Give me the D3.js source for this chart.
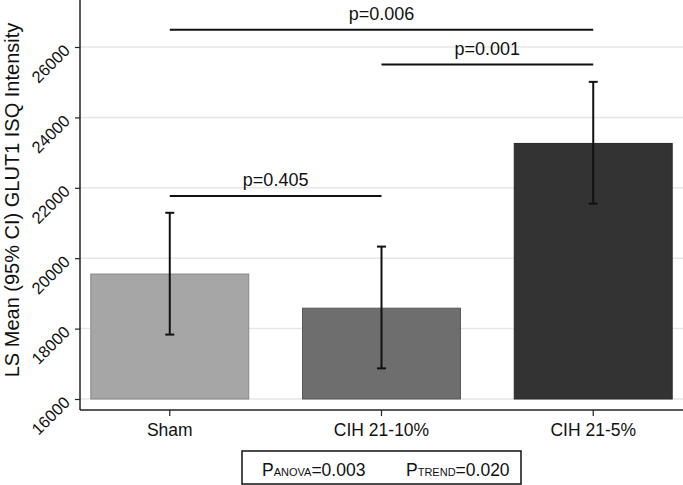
<!DOCTYPE html>
<html>
<head>
<meta charset="utf-8">
<script src="https://cdn.jsdelivr.net/npm/d3@7"></script>
<style>
  body { margin: 0; background: #fff; }
  svg { display: block; font-family: "Liberation Sans", Arial, sans-serif; }
</style>
</head>
<body>
<svg id="chart" width="683" height="485"></svg>
<script>
const categories = ["Sham", "CIH 21-10%", "CIH 21-5%"];
const means = [19550, 18580, 23260];
const ciLower = [17830, 16870, 21550];
const ciUpper = [21290, 20330, 25010];
const barColors = ["#a6a6a6", "#6e6e6e", "#333333"];
const yTicks = [16000, 18000, 20000, 22000, 24000, 26000];
const comparisons = [
  { from: 0, to: 2, y: 26490, label: "p=0.006" },
  { from: 1, to: 2, y: 25500, label: "p=0.001" },
  { from: 0, to: 1, y: 21770, label: "p=0.405" }
];
const yTitle = "LS Mean (95% CI) GLUT1 ISQ Intensity";
const legendItems = [
  { main: "P", sub: "ANOVA", value: "=0.003" },
  { main: "P", sub: "TREND", value: "=0.020" }
];

const svg = d3.select("#chart");
const plotLeft = 80, plotRight = 683, plotTop = 0, axisY = 410;

const x = d3.scaleBand().domain(categories).range([plotLeft, plotRight])
  .paddingInner(0.254).paddingOuter(0.051);
const y = d3.scaleLinear().domain([16000, 26000]).range([399, 47]);

// gridlines
svg.append("g").selectAll("line").data(yTicks).join("line")
  .attr("x1", plotLeft).attr("x2", plotRight)
  .attr("y1", d => y(d)).attr("y2", d => y(d))
  .attr("stroke", "#e6e6e6").attr("stroke-width", 1.5);

// bars
svg.append("g").selectAll("rect").data(categories).join("rect")
  .attr("x", d => x(d)).attr("width", x.bandwidth())
  .attr("y", (d, i) => y(means[i]))
  .attr("height", (d, i) => y(16000) - y(means[i]))
  .attr("fill", (d, i) => barColors[i])
  .attr("stroke", (d, i) => d3.color(barColors[i]).darker(0.6))
  .attr("stroke-width", 1);

// error bars
const eb = svg.append("g").attr("stroke", "#111").attr("stroke-width", 2);
categories.forEach((c, i) => {
  const cx = x(c) + x.bandwidth() / 2;
  eb.append("line").attr("x1", cx).attr("x2", cx).attr("y1", y(ciLower[i])).attr("y2", y(ciUpper[i]));
  eb.append("line").attr("x1", cx - 4.5).attr("x2", cx + 4.5).attr("y1", y(ciLower[i])).attr("y2", y(ciLower[i]));
  eb.append("line").attr("x1", cx - 4.5).attr("x2", cx + 4.5).attr("y1", y(ciUpper[i])).attr("y2", y(ciUpper[i]));
});

// y axis
const yAxis = d3.axisLeft(y).tickValues(yTicks).tickSize(5).tickSizeOuter(0).tickFormat(d3.format("d"));
const gy = svg.append("g").attr("transform", `translate(${plotLeft},0)`).call(yAxis);
gy.select(".domain").remove();
gy.selectAll(".tick line").attr("stroke", "#222").attr("stroke-width", 1.2);
gy.selectAll(".tick text")
  .attr("font-size", 16.5).attr("fill", "#111")
  .attr("text-anchor", "end")
  .attr("x", null).attr("dy", null)
  .attr("transform", "translate(-9,4) rotate(-45)");
svg.append("line").attr("x1", plotLeft).attr("x2", plotLeft).attr("y1", plotTop).attr("y2", axisY)
  .attr("stroke", "#222").attr("stroke-width", 1.5);

// x axis
const xAxis = d3.axisBottom(x).tickSize(6).tickSizeOuter(0);
const gx = svg.append("g").attr("transform", `translate(0,${axisY})`).call(xAxis);
gx.select(".domain").remove();
gx.selectAll(".tick line").attr("stroke", "#222").attr("stroke-width", 1.2);
gx.selectAll(".tick text").attr("font-size", 17.5).attr("fill", "#111").attr("y", 14).attr("dy", "0.71em");
svg.append("line").attr("x1", plotLeft).attr("x2", plotRight).attr("y1", axisY).attr("y2", axisY)
  .attr("stroke", "#222").attr("stroke-width", 1.5);

// y title
svg.append("text")
  .attr("transform", `translate(19,200) rotate(-90)`)
  .attr("text-anchor", "middle").attr("font-size", 20).attr("fill", "#111")
  .text(yTitle);

// comparisons
const cg = svg.append("g");
comparisons.forEach(c => {
  const x1 = x(categories[c.from]) + x.bandwidth() / 2;
  const x2 = x(categories[c.to]) + x.bandwidth() / 2;
  cg.append("line").attr("x1", x1).attr("x2", x2).attr("y1", y(c.y)).attr("y2", y(c.y))
    .attr("stroke", "#111").attr("stroke-width", 2);
  cg.append("text").attr("x", (x1 + x2) / 2).attr("y", y(c.y) - 10)
    .attr("text-anchor", "middle").attr("font-size", 18).attr("fill", "#111").text(c.label);
});

// legend box
const lg = svg.append("g");
lg.append("rect").attr("x", 242).attr("y", 451).attr("width", 279).attr("height", 33)
  .attr("fill", "#fff").attr("stroke", "#111").attr("stroke-width", 1.5);
const legendX = [262, 406];
legendItems.forEach((it, i) => {
  const t = lg.append("text").attr("x", legendX[i]).attr("y", 476).attr("font-size", 17.5).attr("fill", "#111");
  t.append("tspan").text(it.main);
  t.append("tspan").attr("font-size", 11).text(it.sub);
  t.append("tspan").text(it.value);
});
</script>
</body>
</html>
